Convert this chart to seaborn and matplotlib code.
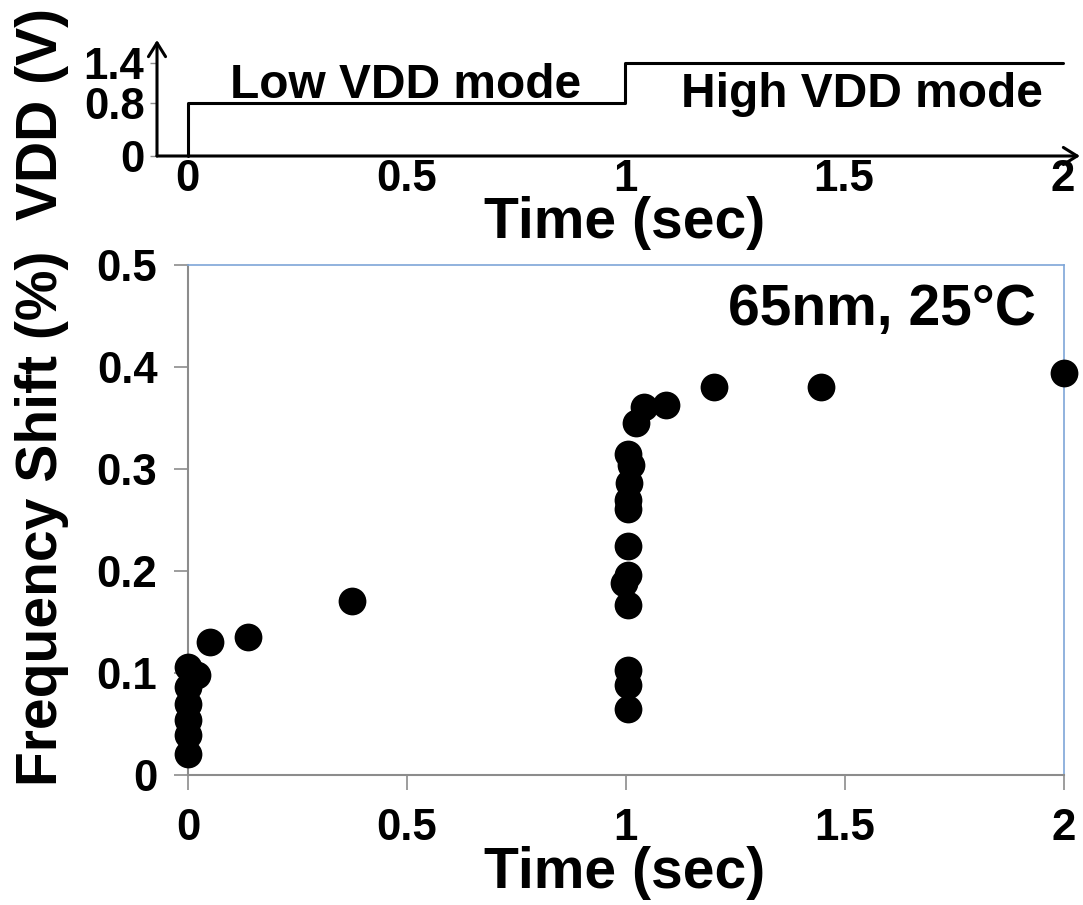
import matplotlib
matplotlib.use("Agg")
import matplotlib.pyplot as plt
import seaborn as sns
import pandas as pd

# ---------------- data ----------------
time_s = [0.0, 0.0, 0.0, 0.0, 0.0, 0.02, 0.0, 0.05, 0.137, 0.375,
          1.004, 1.004, 1.004, 1.004, 0.996, 1.004, 1.004, 1.004, 1.004,
          1.008, 1.011, 1.005, 1.023, 1.042, 1.091, 1.202, 1.447, 2.0]
freq_shift = [0.021, 0.039, 0.054, 0.070, 0.086, 0.098, 0.106, 0.130, 0.135, 0.171,
              0.065, 0.088, 0.103, 0.167, 0.188, 0.196, 0.225, 0.261, 0.270,
              0.286, 0.304, 0.315, 0.345, 0.361, 0.363, 0.380, 0.380, 0.394]

vdd_time = [0.0, 0.0, 1.0, 1.0, 2.0]
vdd_volt = [0.0, 0.8, 0.8, 1.4, 1.4]

x_ticks = [0, 0.5, 1, 1.5, 2]
x_tick_labels = ["0", "0.5", "1", "1.5", "2"]
y_ticks = [0, 0.1, 0.2, 0.3, 0.4, 0.5]
y_tick_labels = ["0", "0.1", "0.2", "0.3", "0.4", "0.5"]
vdd_ticks = [0, 0.8, 1.4]
vdd_tick_labels = ["0", "0.8", "1.4"]

# ---------------- style ----------------
sns.set_theme(style="white")
plt.rcParams["font.family"] = ["Liberation Sans", "DejaVu Sans"]
plt.rcParams["font.weight"] = "bold"
plt.rcParams["text.color"] = "black"
plt.rcParams["axes.labelcolor"] = "black"
plt.rcParams["xtick.color"] = "black"
plt.rcParams["ytick.color"] = "black"
plt.rcParams["xtick.labelcolor"] = "black"
plt.rcParams["ytick.labelcolor"] = "black"

W, H = 1083, 905
fig = plt.figure(figsize=(W / 100, H / 100), dpi=100)
fig.patch.set_facecolor("white")

TICK_FS = 31.5
LABEL_FS = 41
MODE_FS = 34.5

# ---------------- main scatter axes ----------------
ax = fig.add_axes([188 / W, 1 - 775 / H, (1063.5 - 188) / W, (775 - 265) / H])
df = pd.DataFrame({"t": time_s, "f": freq_shift})
sns.scatterplot(data=df, x="t", y="f", ax=ax, color="black", s=400,
                edgecolor="black", linewidth=0, clip_on=False, zorder=5, legend=False)
ax.set_xlim(0, 2)
ax.set_ylim(0, 0.5)
ax.set_xticks(x_ticks)
ax.set_xticklabels(x_tick_labels, fontsize=TICK_FS, fontweight="bold", color="black")
ax.set_yticks(y_ticks)
ax.set_yticklabels(y_tick_labels, fontsize=TICK_FS, fontweight="bold", color="black")
ax.tick_params(axis="x", direction="out", length=11, width=1.2, color="#8c8c8c",
               pad=13, bottom=True)
ax.tick_params(axis="y", direction="out", length=10, width=1.2, color="#8c8c8c",
               pad=12, left=True)
for side in ["left", "bottom"]:
    ax.spines[side].set_color("#8c8c8c")
    ax.spines[side].set_linewidth(1.5)
for side in ["top", "right"]:
    ax.spines[side].set_color("#7ea6d8")
    ax.spines[side].set_linewidth(1.2)
ax.set_xlabel("Time (sec)", fontsize=LABEL_FS, fontweight="bold", va="baseline",
              color="black")
ax.xaxis.set_label_coords(0.499, -0.2216)
ax.set_ylabel("Frequency Shift (%)", fontsize=LABEL_FS, fontweight="bold", va="center",
              color="black")
ax.yaxis.set_label_coords(-0.1668, 0.504)
ax.text(1.937, 0.441, "65nm, 25°C", fontsize=LABEL_FS, fontweight="bold",
        ha="right", va="baseline", color="black")

# ---------------- VDD step axes ----------------
ax2 = fig.add_axes([157 / W, 1 - 156 / H, (1080 - 157) / W, (156 - 40) / H])
x_lo = (157 - 187.5) / 437.5
x_hi = (1080 - 187.5) / 437.5
ax2.set_xlim(x_lo, x_hi)
ax2.set_ylim(0, (156 - 40) / 66.3)
sns.lineplot(x=vdd_time, y=vdd_volt, ax=ax2, sort=False, estimator=None,
             color="black", linewidth=2.2, clip_on=False)
for s in ax2.spines.values():
    s.set_visible(False)
ax2.set_xticks(x_ticks)
ax2.set_xticklabels(x_tick_labels, fontsize=TICK_FS, fontweight="bold", color="black")
ax2.set_yticks(vdd_ticks)
ax2.set_yticklabels(vdd_tick_labels, fontsize=TICK_FS, fontweight="bold", color="black")
ax2.tick_params(axis="x", length=0, pad=2, bottom=True)
ax2.tick_params(axis="y", direction="out", length=5, width=1.0, color="#8c8c8c",
                pad=4, left=True)
arrow = dict(arrowstyle="->,head_length=0.45,head_width=0.28", lw=2.2,
             color="black", shrinkA=0, shrinkB=0, mutation_scale=22)
ax2.annotate("", xy=(0, 1), xytext=(0, 0), xycoords="axes fraction",
             textcoords="axes fraction", arrowprops=arrow)
ax2.annotate("", xy=(1, 0), xytext=(0, 0), xycoords="axes fraction",
             textcoords="axes fraction", arrowprops=arrow)
ax2.text(0.096, 0.875, "Low VDD mode", fontsize=MODE_FS, fontweight="bold",
         ha="left", va="baseline", color="black")
ax2.text(1.129, 0.74, "High VDD mode", fontsize=MODE_FS, fontweight="bold",
         ha="left", va="baseline", color="black")
ax2.set_xlabel("Time (sec)", fontsize=LABEL_FS, fontweight="bold", va="baseline",
               color="black")
ax2.xaxis.set_label_coords(0.507, -0.707)
ax2.set_ylabel("VDD (V)", fontsize=LABEL_FS, fontweight="bold", va="center",
               color="black")
ax2.yaxis.set_label_coords(-0.1246, 0.362)
ax2.set_facecolor("none")

fig.savefig("out.png", dpi=100, facecolor="white")
